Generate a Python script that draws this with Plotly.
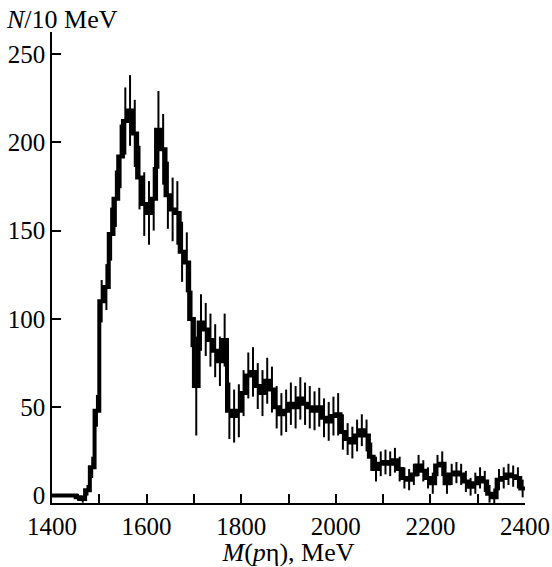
import plotly.graph_objects as go

# bin left edges (MeV), 10 MeV bins
bin_edges = list(range(1400, 2410, 10))
counts = [
    0, 0, 0, 0, 0, -1, -2, 3, 16, 48,
    110, 118, 148, 168, 192, 212, 218, 205, 180, 165,
    160, 168, 207, 196, 170, 162, 160, 138, 132, 100,
    62, 98, 94, 88, 82, 76, 88, 48, 45, 48,
    58, 68, 70, 62, 58, 65, 60, 50, 46, 48,
    52, 50, 55, 52, 50, 48, 50, 44, 42, 45,
    46, 36, 32, 30, 34, 37, 34, 22, 15, 18,
    19, 18, 20, 15, 10, 9, 12, 17, 14, 10,
    7, 17, 18, 7, 12, 13, 12, 8, 5, 7,
    10, 8, 1, -1, 9, 10, 12, 11, 10, 4,
]
errors = [
    0, 0, 0, 0, 0, 2, 2, 3, 6, 9,
    12, 13, 15, 16, 18, 19, 20, 19, 18, 18,
    18, 18, 22, 20, 19, 18, 18, 17, 17, 16,
    28, 16, 15, 15, 15, 14, 15, 16, 15, 15,
    13, 13, 14, 13, 13, 13, 13, 12, 12, 12,
    12, 12, 12, 12, 12, 11, 11, 11, 11, 11,
    12, 10, 9, 9, 9, 9, 9, 8, 7, 7,
    7, 7, 7, 7, 6, 6, 6, 6, 6, 6,
    6, 6, 7, 6, 6, 6, 6, 6, 5, 6,
    6, 6, 5, 5, 6, 6, 6, 6, 6, 5,
]
x_ticks = [1400, 1600, 1800, 2000, 2200, 2400]
y_ticks = [0, 50, 100, 150, 200, 250]

centers = [e + 5 for e in bin_edges[:-1]]
step_x = bin_edges
step_y = counts + [counts[-1]]

FONT = "Liberation Serif"
FS = 25

fig = go.Figure()
fig.add_trace(go.Scatter(
    x=centers, y=counts, mode="markers",
    marker=dict(size=1, color="black"),
    error_y=dict(type="data", array=errors, visible=True,
                 color="black", thickness=2, width=0),
    showlegend=False, hoverinfo="skip",
))
fig.add_trace(go.Scatter(
    x=step_x, y=step_y, mode="lines", line_shape="hv",
    line=dict(color="black", width=4),
    showlegend=False,
))

fig.update_layout(
    width=552, height=567,
    margin=dict(l=52, r=27, t=32, b=64, autoexpand=False),
    paper_bgcolor="white", plot_bgcolor="white",
    font=dict(family=FONT, size=FS, color="black"),
    title=dict(text="<i>N</i>/10 MeV", xref="container", yref="container",
               x=7 / 552, xanchor="left", y=1 - 19 / 567, yanchor="middle",
               automargin=False,
               font=dict(family=FONT, size=FS + 1, color="black")),
)
fig.update_xaxes(
    range=[1400, 2400], tickvals=x_ticks, ticks="inside", ticklen=9,
    tickwidth=1.5, tickcolor="black", automargin=False,
    minor=dict(ticks="inside", ticklen=9, dtick=100, tickcolor="black", tickwidth=1.5),
    showline=True, linecolor="black", linewidth=1.5, showgrid=False,
    zeroline=False, tickfont=dict(family=FONT, size=FS),
    title=dict(text="<i>M</i>(<i>p</i>η), MeV", standoff=2,
               font=dict(family=FONT, size=FS + 1)),
)
fig.update_yaxes(
    range=[-4.2, 262.4], tickvals=y_ticks, ticks="inside", ticklen=9,
    tickwidth=1.5, tickcolor="black", showline=True, linecolor="black",
    linewidth=1.5, showgrid=False, zeroline=False, automargin=False,
    tickfont=dict(family=FONT, size=FS),
)

fig.write_html("out.html")
